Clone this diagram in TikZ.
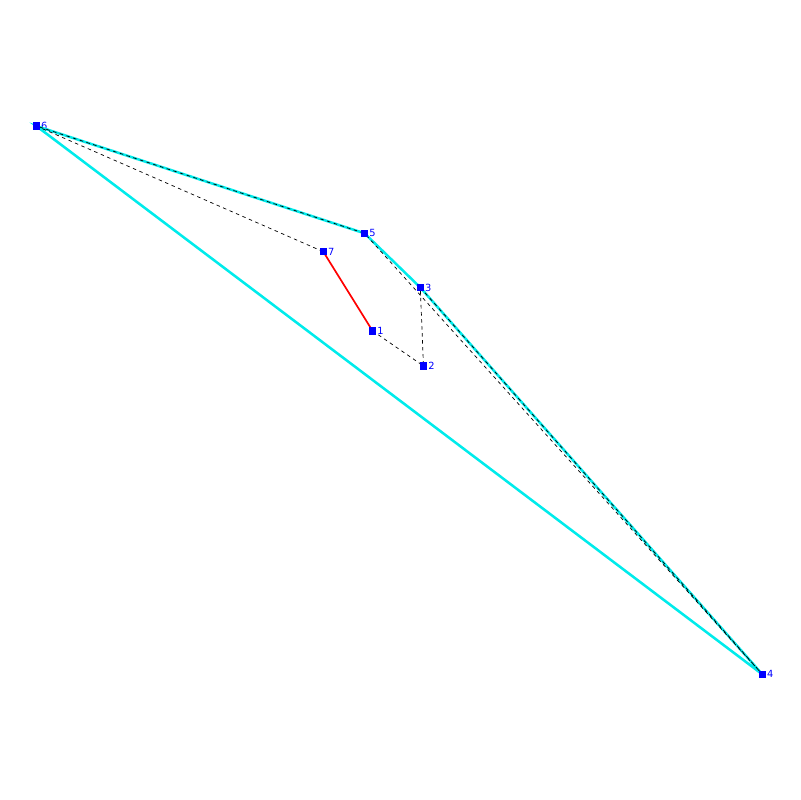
\documentclass[tikz,border=0pt]{standalone}
\usepackage{fontspec}
\setmainfont{DejaVu Sans}
\definecolor{hullcyan}{RGB}{0,235,235}
\tikzset{
  pt/.style={rectangle, fill=blue, inner sep=0pt, minimum size=5pt,
    label={[blue, font=\fontsize{7}{7}\selectfont, inner sep=0.5pt]right:#1}},
  hull/.style={draw=hullcyan, line width=1.8pt},
  edge/.style={dashed, dash pattern=on 2.5pt off 2.5pt, line width=0.5pt},
}
\begin{document}
\begin{tikzpicture}[x=0.025cm, y=-0.025cm]

        % canvas
        \useasboundingbox (0,0) rectangle (800,800);

        % points
        \path (372.5,330.8) node[pt=1] (p1) {}
              (423.5,366.0) node[pt=2] (p2) {}
              (420.3,287.5) node[pt=3] (p3) {}
              (762.3,674.3) node[pt=4] (p4) {}
              (364.5,233.3) node[pt=5] (p5) {}
              (36.3,126.0)  node[pt=6] (p6) {}
              (323.3,251.7) node[pt=7] (p7) {};

        % convex hull
        \draw[hull] (p6.center) -- (p5.center) -- (p3.center) -- (p4.center) -- cycle;

        % polygon edges
        \draw[edge] (p1.center) -- (p2.center) -- (p3.center) -- (p4.center)
                    -- (p5.center) -- (p6.center) -- (p7.center);

        % open edge
        \draw[red, line width=1.2pt] (p7.center) -- (p1.center);

        % points on top
        \foreach \i in {1,...,7}
          \fill[blue] (p\i.south west) rectangle (p\i.north east);

      \end{tikzpicture}
\end{document}
